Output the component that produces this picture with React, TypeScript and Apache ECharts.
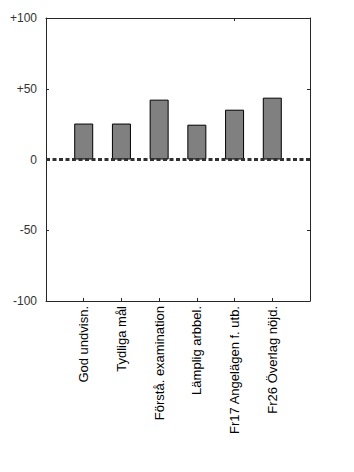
import React, { useEffect, useRef } from "react";
import * as echarts from "echarts";

const categories = [
  "God undvisn.",
  "Tydliga mål",
  "Förstå. examination",
  "Lämplig arbbel.",
  "Fr17 Angelägen f. utb.",
  "Fr26 Överlag nöjd.",
];
const values = [25.4, 25.4, 42.3, 24.6, 35.2, 43.7];
const yTickLabels: Record<string, string> = {
  "100": "+100",
  "50": "+50",
  "0": "0",
  "-50": "-50",
  "-100": "-100",
};

export default function App() {
  const ref = useRef<HTMLDivElement>(null);
  useEffect(() => {
    if (!ref.current) return;
    const chart = echarts.init(ref.current, undefined, { renderer: "svg" });
    const axisData = ["", ...categories, ""];
    const barData = [null, ...values, null];
    const font = "Liberation Sans, Arial, sans-serif";
    chart.setOption({
      animation: false,
      backgroundColor: "#ffffff",
      grid: { left: 46, top: 18, width: 264, height: 283, containLabel: false },
      xAxis: [
        {
          type: "category",
          data: axisData,
          boundaryGap: false,
          position: "bottom",
          axisLine: { onZero: false, lineStyle: { color: "#262626", width: 1 } },
          axisTick: { inside: true, length: 3, lineStyle: { color: "#262626" } },
          axisLabel: {
            rotate: 90,
            interval: 0,
            margin: 5,
            color: "#000000",
            fontSize: 13,
            fontFamily: font,
          },
          splitLine: { show: false },
        },
        {
          type: "category",
          data: axisData,
          boundaryGap: false,
          position: "top",
          axisLine: { onZero: false, lineStyle: { color: "#262626", width: 1 } },
          axisTick: { inside: true, length: 3, lineStyle: { color: "#262626" } },
          axisLabel: { show: false },
          splitLine: { show: false },
        },
      ],
      yAxis: [
        {
          type: "value",
          min: -100,
          max: 100,
          interval: 50,
          position: "left",
          axisLine: { show: true, onZero: false, lineStyle: { color: "#262626", width: 1 } },
          axisTick: { show: true, inside: true, length: 3, lineStyle: { color: "#262626" } },
          axisLabel: {
            margin: 9,
            color: "#333333",
            fontSize: 12,
            fontFamily: font,
            formatter: (v: number) => yTickLabels[String(v)] ?? String(v),
          },
          splitLine: { show: false },
        },
        {
          type: "value",
          min: -100,
          max: 100,
          interval: 50,
          position: "right",
          axisLine: { show: true, onZero: false, lineStyle: { color: "#262626", width: 1 } },
          axisTick: { show: true, inside: true, length: 3, lineStyle: { color: "#262626" } },
          axisLabel: { show: false },
          splitLine: { show: false },
        },
      ],
      series: [
        {
          type: "bar",
          data: barData,
          barWidth: 19,
          itemStyle: { color: "#808080", borderColor: "#000000", borderWidth: 1 },
          markLine: {
            silent: true,
            symbol: ["none", "none"],
            label: { show: false },
            lineStyle: { type: [4, 2.5], width: 3, color: "#303030" },
            data: [{ yAxis: 0 }],
          },
        },
      ],
    });
    return () => chart.dispose();
  }, []);
  return (
    <div
      ref={ref}
      style={{ position: "fixed", left: 0, top: 0, width: 354, height: 472 }}
    />
  );
}
